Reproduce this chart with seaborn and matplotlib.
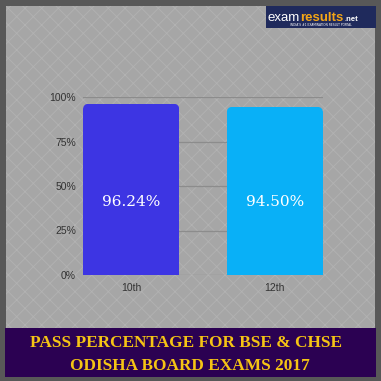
import matplotlib
matplotlib.use("Agg")
import matplotlib.pyplot as plt
import seaborn as sns
import pandas as pd
from matplotlib.patches import Rectangle, FancyBboxPatch

categories = ["10th", "12th"]
values = [96.24, 94.50]
value_labels = ["96.24%", "94.50%"]
ytick_vals = [0, 25, 50, 75, 100]
ytick_labels = ["0%", "25%", "50%", "75%", "100%"]
title_lines = ["PASS PERCENTAGE FOR BSE & CHSE", "ODISHA BOARD EXAMS 2017"]
bar_colors = ["#3d35e3", "#09b0f7"]

W = H = 381
fig = plt.figure(figsize=(3.81, 3.81), dpi=100)
fig.patch.set_facecolor("#585858")
plt.rcParams["hatch.linewidth"] = 0.6

def fx(px):
    return px / W

def fy(py):
    return 1 - py / H

# inner gray hatched panel
fig.patches.append(Rectangle((fx(6), fy(328)), fx(369), (322) / H, transform=fig.transFigure,
                             facecolor="#a6a6a6", edgecolor="#b2b2b2", hatch="xx", linewidth=0, zorder=0))
# bottom banner
fig.patches.append(Rectangle((fx(5), fy(377)), fx(371), 49 / H, transform=fig.transFigure,
                             facecolor="#2b0152", edgecolor="none", zorder=1))
# logo box
fig.patches.append(Rectangle((fx(266), fy(28)), fx(110), 22 / H, transform=fig.transFigure,
                             facecolor="#1f2a5c", edgecolor="none", zorder=1))

ax = fig.add_axes([fx(83), fy(275), fx(240), (275 - 97) / H])
ax.set_zorder(3)
ax.set_facecolor("none")
df = pd.DataFrame({"cat": categories, "val": values})
sns.barplot(data=df, x="cat", y="val", hue="cat", palette=bar_colors, width=0.67,
            legend=False, ax=ax, zorder=3, saturation=1)
ax.set_xlim(-0.335, 1.335)
ax.set_ylim(0, 100)

# rounded top corners via clip paths
x_per_px = (1.335 + 0.335) / 240
y_per_px = 100 / 178
aspect = y_per_px / x_per_px
for p in ax.patches:
    x0, w, h = p.get_x(), p.get_width(), p.get_height()
    clip = FancyBboxPatch((x0, -20), w, h + 20,
                          boxstyle=f"round,pad=0,rounding_size={6 * x_per_px}",
                          mutation_aspect=aspect, transform=ax.transData,
                          facecolor="none", edgecolor="none")
    p.set_clip_path(clip)

ax.set_yticks(ytick_vals)
ax.set_yticklabels(ytick_labels)
for yv in ytick_vals:
    ax.axhline(yv, color="#8c8c8c", linewidth=0.9, zorder=1)
for s in ax.spines.values():
    s.set_visible(False)
ax.tick_params(axis="both", length=0, labelsize=7.5, labelcolor="#333333", pad=5)
ax.tick_params(axis="x", pad=6)
for lab in ax.get_xticklabels() + ax.get_yticklabels():
    lab.set_fontfamily("Liberation Sans")
ax.set_xlabel("")
ax.set_ylabel("")
for i, lbl in enumerate(value_labels):
    ax.text(i, 41, lbl, ha="center", va="center", color="white", fontsize=11,
            family="DejaVu Serif", zorder=5)

# banner title
fig.text(fx(186), fy(343), title_lines[0], ha="center", va="center", color="#f5c414",
         fontsize=12.4, fontweight="bold", family="Liberation Serif", zorder=5)
fig.text(fx(190), fy(366), title_lines[1], ha="center", va="center", color="#f5c414",
         fontsize=12.4, fontweight="bold", family="Liberation Serif", zorder=5)

# logo text, placed one piece after another
renderer = fig.canvas.get_renderer()
t1 = fig.text(fx(267), fy(21), "exam", ha="left", va="baseline", color="white", fontsize=9.5,
              family="Liberation Sans", zorder=5)
e1 = t1.get_window_extent(renderer)
t2 = fig.text(e1.x1 / W + fx(0.5), fy(21), "results", ha="left", va="baseline", color="#f2a516",
              fontsize=9.5, fontweight="bold", family="Liberation Sans", zorder=5)
e2 = t2.get_window_extent(renderer)
fig.text(e2.x1 / W + fx(1), fy(21), ".net", ha="left", va="baseline", color="white", fontsize=5.5,
         fontweight="bold", family="Liberation Sans", zorder=5)
fig.text(fx(290), fy(25.5), "INDIA'S #1 EXAMINATION RESULT PORTAL", ha="left", va="center",
         color="white", fontsize=2.2, family="DejaVu Sans", zorder=5)

fig.savefig("out.png", dpi=100, facecolor=fig.get_facecolor())
